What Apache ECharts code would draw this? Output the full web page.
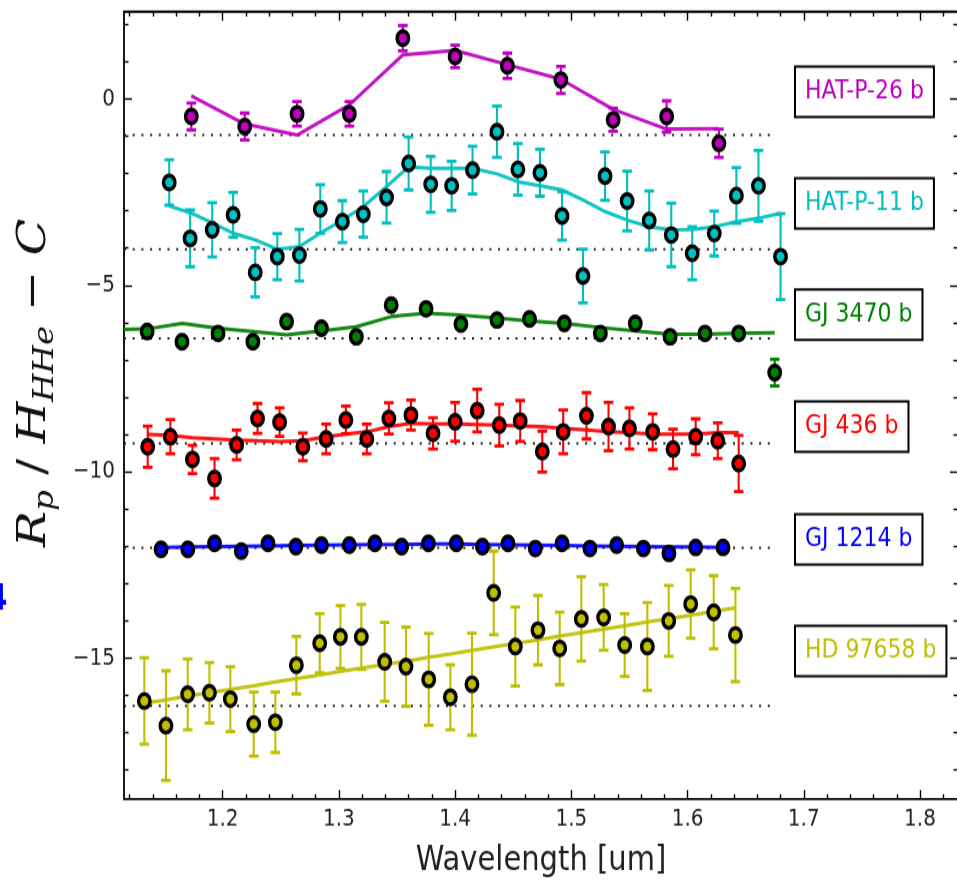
<!DOCTYPE html>
<html>
<head>
<meta charset="utf-8">
<script src="https://cdn.jsdelivr.net/npm/echarts@6/dist/echarts.min.js"></script>
<style>
  html { margin: 0; padding: 0; background: #fff; overflow: hidden; }
  body { margin: 0; padding: 0; background: #fff; width: 957px; height: 882px; }
  /* the figure is drawn at 957x735 and stretched vertically to 957x882 */
  #chart { width: 957px; height: 735px; transform: scaleY(1.2); transform-origin: 0 0; }
</style>
</head>
<body>
<div id="chart"></div>
<script>
// ---------------- axes ----------------
const xMin = 1.1151, xMax = 1.8327;
const yMin = -18.78, yMax = 2.34;
const xMajorTicks = [1.2, 1.3, 1.4, 1.5, 1.6, 1.7, 1.8];
const xMinorTicks = [1.12, 1.14, 1.16, 1.18, 1.22, 1.24, 1.26, 1.28, 1.32, 1.34, 1.36, 1.38,
  1.42, 1.44, 1.46, 1.48, 1.52, 1.54, 1.56, 1.58, 1.62, 1.64, 1.66, 1.68, 1.72, 1.74, 1.76, 1.78, 1.82];
const yMajorTicks = [-15, -10, -5, 0];
const yMinorTicks = [-18, -17, -16, -14, -13, -12, -11, -9, -8, -7, -6, -4, -3, -2, -1, 1, 2];
const baselineEnd = 1.676;

// ---------------- HAT-P-26 b ----------------
const hatp26Wave  = [1.173, 1.219, 1.264, 1.309, 1.355, 1.400, 1.445, 1.491, 1.536, 1.582, 1.627];
const hatp26Depth = [-0.47, -0.74, -0.40, -0.40, 1.63, 1.14, 0.89, 0.51, -0.56, -0.47, -1.19];
const hatp26Err   = [0.36, 0.36, 0.33, 0.33, 0.34, 0.30, 0.34, 0.36, 0.31, 0.42, 0.38];
const hatp26Model = [0.08, -0.67, -0.97, -0.16, 1.18, 1.30, 0.92, 0.53, -0.28, -0.81, -0.80];
const hatp26Baseline = -0.97;

// ---------------- HAT-P-11 b ----------------
const hatp11Wave  = [1.154, 1.172, 1.191, 1.209, 1.228, 1.247, 1.266, 1.284, 1.303, 1.321, 1.341, 1.360, 1.379, 1.397, 1.415,
  1.436, 1.454, 1.473, 1.492, 1.510, 1.529, 1.548, 1.567, 1.586, 1.604, 1.623, 1.642, 1.661, 1.680];
const hatp11Depth = [-2.24, -3.74, -3.51, -3.11, -4.65, -4.23, -4.19, -2.95, -3.29, -3.09, -2.64, -1.73, -2.29, -2.33, -1.91,
  -0.88, -1.89, -1.98, -3.14, -4.75, -2.07, -2.74, -3.26, -3.65, -4.14, -3.61, -2.59, -2.33, -4.23];
const hatp11Err   = [0.61, 0.76, 0.73, 0.60, 0.66, 0.62, 0.69, 0.65, 0.56, 0.62, 0.69, 0.71, 0.75, 0.66, 0.64,
  0.69, 0.69, 0.63, 0.65, 0.72, 0.65, 0.80, 0.79, 0.85, 0.71, 0.60, 0.75, 0.95, 1.15];
const hatp11Model = [-2.87, -3.05, -3.32, -3.60, -3.78, -4.03, -3.96, -3.60, -3.25, -2.89, -2.35, -1.82, -1.86, -1.86, -1.86,
  -2.01, -2.22, -2.33, -2.44, -2.71, -3.02, -3.25, -3.43, -3.51, -3.50, -3.43, -3.29, -3.20, -3.07];
const hatp11Baseline = -4.03;

// ---------------- GJ 3470 b ----------------
const gj3470Wave  = [1.135, 1.165, 1.196, 1.226, 1.255, 1.285, 1.315, 1.345, 1.375, 1.405, 1.436, 1.464, 1.494, 1.525,
  1.555, 1.585, 1.615, 1.644, 1.675];
const gj3470Depth = [-6.24, -6.51, -6.29, -6.51, -5.97, -6.15, -6.38, -5.53, -5.63, -6.04, -5.93, -5.90, -6.02, -6.29,
  -6.02, -6.38, -6.29, -6.29, -7.34];
const gj3470Err   = [0.12, 0.12, 0.12, 0.12, 0.14, 0.10, 0.10, 0.10, 0.10, 0.10, 0.10, 0.10, 0.10, 0.12,
  0.10, 0.12, 0.12, 0.14, 0.36];
const gj3470ModelWave = [1.115, 1.135, 1.165, 1.196, 1.226, 1.255, 1.285, 1.315, 1.345, 1.375, 1.405, 1.436, 1.464,
  1.494, 1.525, 1.555, 1.585, 1.615, 1.644, 1.675];
const gj3470Model = [-6.18, -6.17, -6.02, -6.15, -6.24, -6.33, -6.22, -6.11, -5.84, -5.75, -5.80, -5.88, -5.96,
  -6.02, -6.13, -6.22, -6.31, -6.31, -6.29, -6.27];
const gj3470Baseline = -6.42;

// ---------------- GJ 436 b ----------------
const gj436Wave  = [1.1355, 1.155, 1.174, 1.193, 1.212, 1.230, 1.249, 1.269, 1.289, 1.306, 1.324, 1.343, 1.362, 1.381,
  1.400, 1.419, 1.438, 1.456, 1.475, 1.493, 1.513, 1.532, 1.550, 1.570, 1.5875, 1.607, 1.626, 1.644];
const gj436Depth = [-9.33, -9.06, -9.67, -10.18, -9.28, -8.57, -8.67, -9.33, -9.12, -8.61, -9.12, -8.57, -8.48, -8.97,
  -8.66, -8.36, -8.75, -8.64, -9.46, -8.93, -8.50, -8.79, -8.84, -8.93, -9.39, -9.06, -9.17, -9.78];
const gj436Err   = [0.55, 0.46, 0.38, 0.53, 0.40, 0.40, 0.38, 0.37, 0.40, 0.37, 0.40, 0.42, 0.40, 0.42,
  0.52, 0.57, 0.56, 0.55, 0.55, 0.59, 0.62, 0.65, 0.55, 0.48, 0.53, 0.48, 0.48, 0.75];
const gj436Model = [-9.00, -9.02, -9.09, -9.12, -9.15, -9.17, -9.19, -9.17, -9.06, -8.99, -8.93, -8.79, -8.70, -8.72,
  -8.72, -8.73, -8.75, -8.77, -8.79, -8.84, -8.88, -8.93, -8.95, -8.99, -8.99, -8.99, -8.95, -8.95];
const gj436Baseline = -9.24;

// ---------------- GJ 1214 b ----------------
const gj1214Wave  = [1.147, 1.170, 1.193, 1.216, 1.239, 1.263, 1.285, 1.309, 1.331, 1.354, 1.377, 1.401, 1.4235,
  1.4455, 1.469, 1.492, 1.516, 1.539, 1.562, 1.584, 1.607, 1.6305];
const gj1214Depth = [-12.08, -12.08, -11.92, -12.13, -11.92, -12.01, -11.97, -11.97, -11.92, -12.01, -11.92, -11.92, -12.01,
  -11.92, -12.06, -11.92, -12.06, -11.97, -12.06, -12.19, -12.03, -12.03];
const gj1214Err   = [0.07, 0.07, 0.07, 0.07, 0.07, 0.07, 0.07, 0.07, 0.07, 0.07, 0.07, 0.07, 0.07,
  0.07, 0.07, 0.07, 0.07, 0.07, 0.07, 0.07, 0.07, 0.07];
const gj1214Model = [-12.03, -12.02, -12.01, -12.00, -11.99, -11.98, -11.97, -11.96, -11.95, -11.95, -11.94, -11.94, -11.95,
  -11.96, -11.97, -11.98, -11.99, -12.00, -12.01, -12.02, -12.02, -12.03];
const gj1214Baseline = -12.04;

// ---------------- HD 97658 b ----------------
const hd97658Wave  = [1.1326, 1.1512, 1.1699, 1.1886, 1.2066, 1.2267, 1.2453, 1.2634, 1.2835, 1.3013, 1.3193, 1.3394,
  1.3577, 1.3773, 1.3959, 1.4145, 1.4332, 1.4518, 1.4713, 1.490, 1.5086, 1.5278, 1.5459, 1.5654, 1.5838, 1.6027, 1.6225, 1.6412];
const hd97658Depth = [-16.15, -16.81, -15.97, -15.93, -16.10, -16.77, -16.72, -15.19, -14.60, -14.43, -14.43, -15.10,
  -15.23, -15.57, -16.05, -15.70, -13.25, -14.69, -14.25, -14.74, -13.95, -13.91, -14.65, -14.69, -14.00, -13.55, -13.77, -14.38];
const hd97658Err   = [1.16, 1.47, 0.95, 0.81, 0.87, 0.86, 0.81, 0.77, 0.79, 0.84, 0.87, 1.06,
  1.06, 1.23, 0.87, 1.37, 1.12, 1.06, 0.93, 0.97, 1.13, 0.88, 0.84, 1.18, 0.95, 0.92, 0.98, 1.25];
const hd97658Model = [-16.21, -16.12, -16.02, -15.93, -15.84, -15.74, -15.64, -15.55, -15.45, -15.36, -15.27, -15.17,
  -15.08, -14.98, -14.89, -14.79, -14.70, -14.61, -14.51, -14.41, -14.32, -14.22, -14.13, -14.03, -13.94, -13.85, -13.75, -13.65];
const hd97658Baseline = -16.28;

// ---------------- assembly ----------------
const planets = [
  { name: 'HAT-P-26 b', color: '#bf00bf', wave: hatp26Wave, depth: hatp26Depth, err: hatp26Err,
    modelWave: hatp26Wave, model: hatp26Model, baseline: hatp26Baseline },
  { name: 'HAT-P-11 b', color: '#00bfbf', wave: hatp11Wave, depth: hatp11Depth, err: hatp11Err,
    modelWave: hatp11Wave, model: hatp11Model, baseline: hatp11Baseline },
  { name: 'GJ 3470 b', color: '#008000', wave: gj3470Wave, depth: gj3470Depth, err: gj3470Err,
    modelWave: gj3470ModelWave, model: gj3470Model, baseline: gj3470Baseline },
  { name: 'GJ 436 b', color: '#ff0000', wave: gj436Wave, depth: gj436Depth, err: gj436Err,
    modelWave: gj436Wave, model: gj436Model, baseline: gj436Baseline },
  { name: 'GJ 1214 b', color: '#0000ff', wave: gj1214Wave, depth: gj1214Depth, err: gj1214Err,
    modelWave: gj1214Wave, model: gj1214Model, baseline: gj1214Baseline },
  { name: 'HD 97658 b', color: '#bfbf00', wave: hd97658Wave, depth: hd97658Depth, err: hd97658Err,
    modelWave: hd97658Wave, model: hd97658Model, baseline: hd97658Baseline }
];

// layout (in the unstretched 957x735 drawing space)
const grid = { left: 124, right: -1, top: 9.75, bottom: 69.15 };
const tagLeft = 796;
const tagCenterY = [76.4, 169.6, 262.3, 355.4, 449.6, 542.5];

function errorBarItem(params, api) {
  const x = api.value(0);
  const top = api.coord([x, api.value(2)]);
  const bot = api.coord([x, api.value(1)]);
  const color = api.visual('color');
  const half = 4.8;
  return {
    type: 'group',
    children: [
      { type: 'line', shape: { x1: top[0], y1: top[1], x2: bot[0], y2: bot[1] },
        style: { stroke: color, lineWidth: 2.1 } },
      { type: 'line', shape: { x1: top[0] - half, y1: top[1], x2: top[0] + half, y2: top[1] },
        style: { stroke: color, lineWidth: 2.8 } },
      { type: 'line', shape: { x1: bot[0] - half, y1: bot[1], x2: bot[0] + half, y2: bot[1] },
        style: { stroke: color, lineWidth: 2.8 } }
    ]
  };
}

const series = [];
planets.forEach(p => {
  series.push({
    type: 'line', name: p.name + ' reference', z: 1, silent: true, symbol: 'none',
    data: [[xMin, p.baseline], [baselineEnd, p.baseline]],
    lineStyle: { color: '#222', width: 2, type: [2, 6.7], cap: 'butt' }
  });
  series.push({
    type: 'line', name: p.name + ' model', z: 2, silent: true, symbol: 'none', clip: true,
    data: p.modelWave.map((w, i) => [w, p.model[i]]),
    lineStyle: { color: p.color, width: 3, opacity: 0.92 }
  });
  series.push({
    type: 'custom', name: p.name + ' error', z: 3, silent: true, clip: true,
    renderItem: errorBarItem,
    itemStyle: { color: p.color },
    encode: { x: 0, y: [1, 2] },
    data: p.wave.map((w, i) => [w, p.depth[i] - p.err[i], p.depth[i] + p.err[i]])
  });
  series.push({
    type: 'scatter', name: p.name, z: 4, silent: true, symbol: 'circle', symbolSize: 11.5,
    data: p.wave.map((w, i) => [w, p.depth[i]]),
    itemStyle: { color: p.color, borderColor: '#000', borderWidth: 3.4, opacity: 1 }
  });
});

const tickStyle = { color: '#000', width: 1.4 };
function xAxisDef(position, values, length, withLabels) {
  return {
    type: 'value', position, min: xMin, max: xMax, gridIndex: 0,
    axisLine: { show: false, onZero: false }, splitLine: { show: false },
    axisTick: { show: true, inside: true, length, customValues: values, lineStyle: tickStyle },
    axisLabel: withLabels ? {
      show: true, customValues: values, margin: 7, color: '#222',
      fontFamily: 'DejaVu Sans', fontSize: 20, formatter: v => v.toFixed(1)
    } : { show: false }
  };
}
function yAxisDef(position, values, length, withLabels) {
  return {
    type: 'value', position, min: yMin, max: yMax, gridIndex: 0,
    axisLine: { show: false, onZero: false }, splitLine: { show: false },
    axisTick: { show: true, inside: true, length, customValues: values, lineStyle: tickStyle },
    axisLabel: withLabels ? {
      show: true, customValues: values, margin: 9, color: '#222',
      fontFamily: 'DejaVu Sans', fontSize: 20,
      formatter: v => (v < 0 ? '\u2212' + Math.abs(v) : String(v))
    } : { show: false }
  };
}

const graphic = planets.map((p, i) => ({
  type: 'text', x: tagLeft, y: tagCenterY[i], z: 10,
  style: {
    text: p.name, fill: p.color, font: '22px "DejaVu Sans"', lineHeight: 26,
    backgroundColor: '#fff', borderColor: '#000', borderWidth: 2,
    padding: [7, 9, 7, 9], verticalAlign: 'middle', align: 'left'
  }
}));
graphic.push({
  type: 'text', x: 541, y: 717, z: 10,
  style: { text: 'Wavelength [um]', fill: '#222', font: '29px "DejaVu Sans"', align: 'center', verticalAlign: 'middle' }
});
graphic.push({
  type: 'text', x: 35, y: 319, rotation: Math.PI / 2, z: 10,
  style: {
    text: '{i|R}{s|p}{n| / }{i|H}{s|HHe}{n| \u2212 }{i|C}',
    align: 'center', verticalAlign: 'middle', fill: '#111',
    rich: {
      i: { fontFamily: 'DejaVu Serif', fontStyle: 'italic', fontSize: 40, lineHeight: 48, verticalAlign: 'middle', fill: '#111' },
      s: { fontFamily: 'DejaVu Serif', fontStyle: 'italic', fontSize: 27, lineHeight: 16, verticalAlign: 'bottom', fill: '#111' },
      n: { fontFamily: 'DejaVu Serif', fontSize: 40, lineHeight: 48, verticalAlign: 'middle', fill: '#111' }
    }
  }
});
// fragments of neighbouring panels at the left edge
graphic.push({
  type: 'text', x: -14, y: 500, z: 10,
  style: { text: '4', fill: '#0000ff', font: 'bold 31px "DejaVu Sans"', verticalAlign: 'middle' }
});
graphic.push({
  type: 'text', x: -7, y: 36, z: 10,
  style: { text: '/', fill: '#d0106a', font: 'bold 16px "DejaVu Sans"', verticalAlign: 'middle' }
});

const chart = echarts.init(document.getElementById('chart'), null, { renderer: 'canvas' });
chart.setOption({
  animation: false,
  backgroundColor: '#fff',
  grid: Object.assign({ show: true, borderColor: '#000', borderWidth: 1.8, backgroundColor: 'transparent',
    containLabel: false, outerBoundsMode: 'none' }, grid),
  xAxis: [
    xAxisDef('bottom', xMajorTicks, 7.5, true),
    xAxisDef('bottom', xMinorTicks, 4, false),
    xAxisDef('top', xMajorTicks, 7.5, false),
    xAxisDef('top', xMinorTicks, 4, false)
  ],
  yAxis: [
    yAxisDef('left', yMajorTicks, 8, true),
    yAxisDef('left', yMinorTicks, 4.5, false),
    yAxisDef('right', yMajorTicks, 8, false),
    yAxisDef('right', yMinorTicks, 4.5, false)
  ],
  series,
  graphic
});
</script>
</body>
</html>
